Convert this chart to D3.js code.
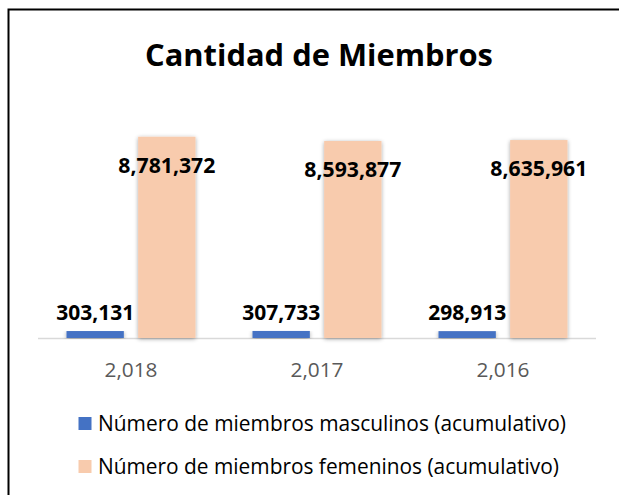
<!DOCTYPE html>
<html>
<head>
<meta charset="utf-8">
<script src="https://cdn.jsdelivr.net/npm/d3@7"></script>
<style>
  html, body { margin: 0; padding: 0; background: #fff; }
  svg { display: block; }
</style>
</head>
<body>
<svg id="chart" width="619" height="495"></svg>
<script>
const categories = ["2,018", "2,017", "2,016"];
const seriesNames = [
  "Número de miembros masculinos (acumulativo)",
  "Número de miembros femeninos (acumulativo)"
];
const maleValues = [303131, 307733, 298913];
const femaleValues = [8781372, 8593877, 8635961];
const chartTitle = "Cantidad de Miembros";

const colors = ["#4472C4", "#F8CBAD"];
const FONT = "'Open Sans', 'Noto Sans', sans-serif";

const svg = d3.select("#chart");
const defs = svg.append("defs");

const f = defs.append("filter").attr("id", "shadow")
  .attr("x", "-30%").attr("y", "-10%").attr("width", "160%").attr("height", "120%");
f.append("feGaussianBlur").attr("in", "SourceAlpha").attr("stdDeviation", 2).attr("result", "b");
f.append("feOffset").attr("in", "b").attr("dx", 0).attr("dy", 1).attr("result", "o");
f.append("feComponentTransfer").attr("in", "o").attr("result", "s")
  .append("feFuncA").attr("type", "linear").attr("slope", 0.35);
const m = f.append("feMerge");
m.append("feMergeNode").attr("in", "s");
m.append("feMergeNode").attr("in", "SourceGraphic");

// frame
svg.append("rect").attr("x", 0).attr("y", 0).attr("width", 619).attr("height", 495).attr("fill", "#fff");
svg.append("rect").attr("x", 8.5).attr("y", 9.5).attr("width", 700).attr("height", 600)
  .attr("fill", "#fff").attr("stroke", "#000").attr("stroke-width", 2);

// fit helper: scale font-size so the text reaches the target width
function fitFont(sel, target, maxSize) {
  sel.each(function () {
    const t = d3.select(this);
    const fs = +t.attr("font-size");
    const w = this.getComputedTextLength();
    let nf = fs * target / w;
    if (maxSize && nf > maxSize) nf = maxSize;
    t.attr("font-size", nf.toFixed(2));
  });
}

// title
svg.append("text").attr("x", 319).attr("y", 66)
  .attr("text-anchor", "middle").attr("font-family", FONT).attr("font-weight", 700)
  .attr("font-size", 32).attr("fill", "#000").text(chartTitle)
  .call(fitFont, 348);

const x0 = d3.scaleBand().domain(categories).range([38, 596]).paddingInner(0).paddingOuter(0);
const x1 = d3.scaleBand().domain([0, 1]).range([28.5, 157.5]).paddingInner(0.2).paddingOuter(0);
const y = d3.scaleLinear().domain([0, 10000000]).range([338, 108.8]);

const data = categories.map((c, i) => ({ cat: c, vals: [maleValues[i], femaleValues[i]] }));

// axis line
svg.append("line").attr("x1", 38).attr("x2", 596).attr("y1", y(0) + 0.5).attr("y2", y(0) + 0.5)
  .attr("stroke", "#D9D9D9").attr("stroke-width", 1.5);

const g = svg.append("g").selectAll("g").data(data).join("g")
  .attr("transform", d => `translate(${x0(d.cat)},0)`);

g.selectAll("rect").data(d => d.vals.map((v, k) => ({ v, k }))).join("rect")
  .attr("x", d => x1(d.k)).attr("width", x1.bandwidth())
  .attr("y", d => y(d.v)).attr("height", d => y(0) - y(d.v))
  .attr("fill", d => colors[d.k]).attr("filter", "url(#shadow)");

// value labels
const fmt = d3.format(",");
g.selectAll("text.val").data(d => d.vals.map((v, k) => ({ v, k }))).join("text")
  .attr("class", "val")
  .attr("x", d => x1(d.k) + x1.bandwidth() / 2)
  .attr("y", d => d.k === 0 ? y(d.v) - 11 : y(d.v) + 36)
  .attr("text-anchor", "middle").attr("font-family", FONT).attr("font-weight", 700)
  .attr("font-size", 21.5).attr("fill", "#000")
  .text(d => fmt(d.v))
  .each(function (d) {
    d3.select(this).call(fitFont, d.k === 0 ? 78 : 97);
  });

// x axis labels
svg.append("g").selectAll("text").data(categories).join("text")
  .attr("x", d => x0(d) + x0.bandwidth() / 2).attr("y", 377)
  .attr("text-anchor", "middle").attr("font-family", FONT)
  .attr("font-size", 17).attr("fill", "#595959").text(d => d)
  .call(fitFont, 53);

// legend
const lg = svg.append("g").selectAll("g").data(seriesNames).join("g")
  .attr("transform", (d, i) => `translate(0,${i * 43})`);
lg.append("rect").attr("x", 78.5).attr("y", 417).attr("width", 13).attr("height", 13)
  .attr("fill", (d, i) => colors[i]);
lg.append("text").attr("x", 98).attr("y", 431)
  .attr("font-family", FONT).attr("font-size", 17).attr("fill", "#000")
  .text(d => d)
  .each(function (d, i) { d3.select(this).call(fitFont, i === 0 ? 468 : 461); });
</script>
</body>
</html>
